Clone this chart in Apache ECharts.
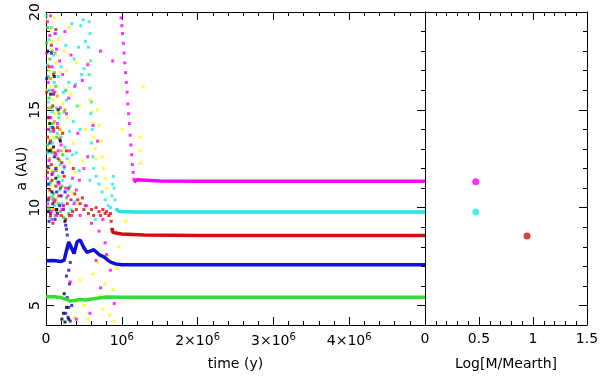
<!DOCTYPE html>
<html>
<head>
<meta charset="utf-8">
<script src="https://cdn.jsdelivr.net/npm/echarts@6/dist/echarts.min.js"></script>
<style>
  html, body { margin: 0; padding: 0; background: #fff; }
  #chart { width: 600px; height: 377px; }
</style>
</head>
<body>
<div id="chart"></div>
<script>
// time in units of 10^6 yr, a in AU
var magentaPts = [[0.02,19.5],[0.05,18.8],[0.08,17.2],[0.03,16.4],[0.11,15.9],[0.14,18.1],[0.18,17.5],[0.22,16.8],[0.25,19.0],[0.06,14.6],[0.1,13.9],[0.15,14.3],[0.2,13.2],[0.27,14.8],[0.3,15.6],[0.33,17.8],[0.38,16.2],[0.42,13.8],[0.48,16.5],[0.55,17.3],[0.62,14.2],[0.68,13.4],[0.04,12.4],[0.09,11.8],[0.13,12.7],[0.17,11.2],[0.24,12.1],[0.29,10.6],[0.35,11.5],[0.4,10.9],[0.02,10.2],[0.07,9.8],[0.12,10.4],[0.45,9.6],[0.52,10.1],[0.6,9.2],[0.7,8.8],[0.75,9.4],[0.8,7.6],[0.85,6.8],[0.32,6.2],[0.4,4.3],[0.58,4.6],[0.72,5.9],[0.9,5.1],[0.78,8.2],[0.66,7.3],[0.55,12.6],[0.88,17.5],[0.72,18.0],
  [0.01,17.9],[0.03,14.0],[0.06,19.8],[0.09,16.0],[0.12,18.9],[0.16,12.9],[0.19,15.1],[0.23,10.1],[0.26,11.0],[0.31,12.9],[0.34,9.6],[0.37,10.2],[0.44,11.4],[0.5,12.0],[0.02,11.5],[0.08,9.4],[0.14,9.6],[0.21,9.9],
  [0.99,19.7],[1.0,19.3],[1.01,18.9],[1.02,18.4],[1.03,17.9],[1.04,17.4],[1.05,16.9],[1.06,16.4],[1.07,15.9],[1.08,15.3],[1.09,14.8],[1.10,14.3],[1.11,13.7],[1.12,13.2],[1.13,12.7],[1.14,12.2],[1.15,11.8],[1.16,11.45]];
var magentaLine = [[1.16,11.3],[1.2,11.42],[1.5,11.36],[2,11.35],[3,11.35],[4,11.35],[5,11.35]];

var cyanPts = [[0.01,19.8],[0.04,18.6],[0.07,19.2],[0.1,17.8],[0.13,18.9],[0.16,16.7],[0.2,17.2],[0.23,15.9],[0.26,18.3],[0.3,16.4],[0.34,19.4],[0.37,17.6],[0.41,15.2],[0.46,19.3],[0.5,17.1],[0.03,15.4],[0.06,14.1],[0.09,13.3],[0.12,12.6],[0.15,13.8],[0.19,12.2],[0.22,11.4],[0.25,13.1],[0.28,12.5],[0.32,11.1],[0.36,14.4],[0.05,11.2],[0.08,10.6],[0.11,10.1],[0.14,9.8],[0.18,10.9],[0.21,10.2],[0.38,10.3],[0.44,11.9],[0.58,11.4],[0.05,9.5],[0.65,9.4],
  [0.02,17.3],[0.05,16.0],[0.08,14.9],[0.11,16.4],[0.14,15.1],[0.17,14.6],[0.2,13.6],[0.24,12.0],[0.27,15.5],[0.31,13.9],[0.35,12.7],[0.39,16.3],[0.43,18.2],[0.47,16.8],[0.45,14.0],[0.49,19.6],[0.52,18.5],[0.4,12.8],[0.29,10.9],[0.33,9.9],[0.16,11.6],[0.02,12.8],
  [0.57,19.5],[0.58,18.9],[0.56,18.2],[0.59,17.5],[0.57,16.8],[0.58,16.1],[0.6,15.4],[0.59,14.8],[0.61,14.0],[0.6,13.3],[0.62,12.6],[0.63,12.0],[0.66,11.6],[0.7,11.2],[0.74,10.8],[0.78,10.4],[0.82,10.1],[0.85,10.0],[0.87,10.6],[0.88,11.2],[0.89,11.6],[0.9,11.0],[0.91,10.4],[0.93,9.9]];
var cyanLine = [[0.93,9.95],[0.96,9.8],[1.2,9.78],[2,9.78],[3,9.78],[4,9.78],[5,9.78]];

var redPts = [[0.01,15.9],[0.03,14.6],[0.06,13.4],[0.09,15.2],[0.12,12.8],[0.15,14.1],[0.18,13.5],[0.21,12.3],[0.24,11.6],[0.27,12.9],[0.02,11.8],[0.05,10.9],[0.08,11.4],[0.11,10.3],[0.14,9.9],[0.17,10.6],[0.2,9.6],[0.23,10.1],[0.26,9.4],[0.3,11.0],[0.33,10.4],[0.36,12.0],[0.4,9.9],[0.04,17.2],[0.1,16.8],
  [0.02,13.6],[0.04,10.5],[0.07,12.2],[0.1,14.0],[0.13,11.1],[0.16,12.5],[0.19,11.0],[0.22,13.8],[0.28,10.2],[0.31,9.6],[0.35,9.8],[0.38,10.7],[0.06,9.6],[0.09,9.2],[0.13,19.1],[0.07,18.3],
  [0.42,10.4],[0.45,10.2],[0.48,10.5],[0.5,9.9],[0.53,10.1],[0.56,9.7],[0.6,9.9],[0.63,9.6],[0.66,10.0],[0.7,9.8],[0.72,9.6],[0.75,9.9],[0.78,9.7],[0.8,9.8],[0.83,9.6],[0.85,9.7],[0.86,9.3],[0.87,8.9]];
var redLine = [[0.87,8.95],[0.88,8.75],[0.92,8.7],[1.0,8.65],[1.3,8.6],[2,8.58],[3,8.58],[4,8.58],[5,8.58]];

var bluePts = [[0.02,12.1],[0.05,13.3],[0.08,11.7],[0.11,12.6],[0.14,10.8],[0.17,11.3],[0.03,10.4],[0.06,9.7],[0.09,10.2],[0.12,9.4],[0.2,10.6],[0.23,9.9],[0.26,9.1],[0.28,8.6],[0.29,7.9],[0.3,6.8],[0.31,6.1],[0.28,5.4],[0.3,4.9],[0.29,4.4],[0.32,4.2],[0.27,8.9],[0.04,14.6],[0.1,15.8],[0.07,17.9],
  [0.01,16.6],[0.03,11.2],[0.06,12.9],[0.09,14.1],[0.13,12.0],[0.15,9.7],[0.18,10.1],[0.22,11.8],[0.04,9.3],[0.25,10.8],[0.32,7.2],[0.34,5.0],[0.27,6.5],[0.26,4.6]];
var blueLine = [[0,7.28],[0.1,7.3],[0.2,7.25],[0.24,7.32],[0.27,7.8],[0.3,8.24],[0.33,8.0],[0.37,7.65],[0.41,8.25],[0.45,8.35],[0.5,7.95],[0.54,7.72],[0.6,7.8],[0.63,7.85],[0.7,7.6],[0.77,7.47],[0.82,7.3],[0.86,7.2],[0.92,7.12],[1.0,7.08],[2,7.08],[3,7.08],[4,7.08],[5,7.08]];

var greenPts = [[0.01,18.4],[0.03,16.7],[0.05,17.6],[0.07,15.1],[0.09,14.3],[0.02,13.2],[0.04,12.1],[0.06,11.3],[0.08,12.8],[0.1,10.7],[0.12,11.9],[0.14,13.6],[0.16,10.2],[0.18,12.4],[0.21,11.1],[0.24,14.9],[0.13,16.2],[0.19,9.8],[0.03,10.0],[0.27,10.5],
  [0.02,19.2],[0.04,15.6],[0.06,13.9],[0.08,18.0],[0.11,16.9],[0.15,11.3],[0.17,14.8],[0.22,12.7],[0.26,16.0],[0.05,9.9],[0.09,10.4],[0.12,9.6],[0.23,9.5],[0.3,9.7]];
var greenLine = [[0,5.45],[0.1,5.44],[0.2,5.4],[0.28,5.3],[0.32,5.22],[0.37,5.25],[0.45,5.3],[0.52,5.28],[0.58,5.32],[0.7,5.38],[0.8,5.43],[1,5.42],[2,5.42],[3,5.42],[4,5.42],[5,5.42]];

var yellowPts = [[0.02,19.6],[0.05,19.1],[0.08,18.5],[0.11,19.7],[0.04,17.0],[0.07,16.2],[0.1,15.5],[0.13,17.4],[0.16,18.6],[0.19,16.9],[0.03,14.2],[0.06,13.5],[0.09,12.9],[0.12,14.8],[0.15,12.1],[0.18,13.7],[0.22,15.3],[0.25,13.0],[0.28,14.6],[0.31,12.3],[0.05,11.1],[0.14,10.4],[0.2,11.6],[0.34,10.8],[0.38,11.8],[0.42,10.2],
  [0.01,16.0],[0.04,13.0],[0.07,11.9],[0.1,13.6],[0.13,15.9],[0.17,15.0],[0.21,13.9],[0.24,18.0],[0.27,17.0],[0.3,19.2],[0.33,15.8],[0.36,13.3],[0.4,17.4],[0.44,15.2],[0.48,12.4],[0.52,14.0],[0.16,9.7],
  [0.55,17.4],[0.56,16.8],[0.57,16.1],[0.58,15.5],[0.6,14.9],[0.62,14.3],[0.63,13.6],[0.65,13.0],[0.66,12.5],[0.68,15.0],[0.7,14.2],[0.72,13.4],[0.74,12.6],[0.76,12.0],[0.78,11.5],[0.8,11.0],
  [0.45,6.3],[0.5,5.0],[0.55,4.3],[0.62,6.6],[0.68,7.2],[0.72,5.5],[0.75,4.8],[0.78,6.1],[0.82,7.5],[0.84,4.5],[0.88,5.8],[0.9,4.2],[0.93,6.9],[0.96,8.0],[0.38,4.4],[0.4,5.2],
  [1.28,16.2],[1.24,13.6],[1.24,12.9],[1.25,12.3],[1.0,14.0],[1.05,9.3]];

var blackPts = [[0.02,18.0],[0.06,15.8],[0.1,13.1],[0.04,12.9],[0.13,11.5],[0.08,10.8],[0.16,15.0],[0.25,9.3],[0.21,4.3],[0.23,4.6],[0.25,4.15],[0.3,4.3],[0.27,4.9],[0.24,5.6],
  [0.05,14.3],[0.11,16.7],[0.14,9.9],[0.19,13.4],[0.03,9.8]];
var orangePts = [[0.03,15.1],[0.07,13.0],[0.11,14.4],[0.05,12.5],[0.15,15.7],[0.09,10.5],[0.18,14.0],[0.12,17.9],
  [0.02,12.0],[0.06,16.6],[0.14,11.9],[0.2,12.9],[0.25,15.0],[0.1,9.9]];

// final planets: log mass vs a
var massPts = [[0.47,11.32],[0.47,9.78],[0.945,8.55]];
var massColors = ['#ff00ff','#22e8e8','#d01010'];

var yTicks = [5,10,15,20];

var myChart = echarts.init(document.getElementById('chart'));
var font = 'DejaVu Sans';
var black = '#000';

// one axis per tick size: long ticks (major) and short ticks (minor)
function xAx(grid, pos, len, opt){
  var a = {
    type:'value', gridIndex:grid, position:pos,
    axisLine:{show:true, onZero:false, lineStyle:{color:black, width:1}},
    axisTick:{show:true, inside:true, length:len, lineStyle:{color:black}},
    splitLine:{show:false},
    axisLabel:{show:false}
  };
  return Object.assign(a, opt);
}
function yAx(grid, pos, major, opt){
  var a = {
    type:'value', gridIndex:grid, position:pos, min:4, max:20,
    axisLine:{show:true, onZero:false, lineStyle:{color:black, width:1}},
    axisTick: major ? {show:true, inside:true, length:8, customValues:yTicks, lineStyle:{color:black}}
                    : {show:true, inside:true, length:4, lineStyle:{color:black}},
    splitLine:{show:false},
    axisLabel:{show:false}
  };
  if(!major){ a.interval = 1; a.axisLine = {show:false, onZero:false}; }
  return Object.assign(a, opt);
}

var timeLabel = {
  show:true, margin:7, color:black, fontFamily:font, fontSize:14,
  formatter:function(v){
    if(v === 0) return '0';
    if(v === 1) return '{b|10}{s|6}';
    if(v >= 5) return '';
    return '{b|' + v + '×10}{s|6}';
  },
  rich:{
    b:{fontFamily:font, fontSize:14, color:black},
    s:{fontFamily:font, fontSize:10, color:black, padding:[0,0,9,0]}
  }
};
var nameStyle = {fontFamily:font, fontSize:14, color:black};

var option = {
  animation:false,
  backgroundColor:'#fff',
  grid:[
    {left:46, right:175, top:12, bottom:52, outerBoundsMode:'none'},
    {left:425, right:13, top:12, bottom:52, outerBoundsMode:'none'}
  ],
  xAxis:[
    xAx(0,'bottom',8,{min:0, max:5, interval:1, axisLabel:timeLabel,
      name:'time (y)', nameLocation:'middle', nameGap:32, nameTextStyle:nameStyle}),
    xAx(0,'bottom',4,{min:0, max:5, interval:0.2, axisLine:{show:false, onZero:false}}),
    xAx(0,'top',8,{min:0, max:5, interval:1}),
    xAx(0,'top',4,{min:0, max:5, interval:0.2, axisLine:{show:false, onZero:false}}),
    xAx(1,'bottom',8,{min:0, max:1.5, interval:0.5,
      axisLabel:{show:true, margin:7, color:black, fontFamily:font, fontSize:14},
      name:'Log[M/Mearth]', nameLocation:'middle', nameGap:32, nameTextStyle:nameStyle}),
    xAx(1,'bottom',4,{min:0, max:1.5, interval:0.1, axisLine:{show:false, onZero:false}}),
    xAx(1,'top',8,{min:0, max:1.5, interval:0.5}),
    xAx(1,'top',4,{min:0, max:1.5, interval:0.1, axisLine:{show:false, onZero:false}})
  ],
  yAxis:[
    yAx(0,'left',true,{
      axisLabel:{show:true, customValues:yTicks, rotate:90, margin:4, color:black, fontFamily:font, fontSize:14},
      name:'a (AU)', nameLocation:'middle', nameGap:17, nameRotate:90, nameMoveOverlap:false,
      nameTextStyle:nameStyle}),
    yAx(0,'left',false,{}),
    yAx(0,'right',true,{}),
    yAx(0,'right',false,{}),
    yAx(1,'left',true,{axisTick:{show:false}}),
    yAx(1,'right',true,{}),
    yAx(1,'right',false,{})
  ],
  series:[]
};

function dots(data, color){
  option.series.push({type:'scatter', xAxisIndex:0, yAxisIndex:0, data:data,
    symbol:'rect', symbolSize:3, itemStyle:{color:color}, silent:true});
}
function track(data, color){
  option.series.push({type:'line', xAxisIndex:0, yAxisIndex:0, data:data,
    showSymbol:false, smooth:false, lineStyle:{color:color, width:3.5}, silent:true});
}

dots(yellowPts, '#ffff00');
dots(orangePts, '#ff8c00');
dots(greenPts, '#22dd22');
dots(cyanPts, '#22e8e8');
dots(bluePts, '#1010d0');
dots(redPts, '#d01010');
dots(magentaPts, '#ff00ff');
dots(blackPts, '#000000');

track(greenLine, '#33dd33');
track(blueLine, '#1010d0');
track(redLine, '#d01010');
track(cyanLine, '#22e8e8');
track(magentaLine, '#ff00ff');

option.series.push({
  type:'scatter', xAxisIndex:4, yAxisIndex:4, symbolSize:7, silent:true,
  data: massPts.map(function(p, i){ return {value:p, itemStyle:{color:massColors[i]}}; })
});

myChart.setOption(option);
</script>
</body>
</html>
